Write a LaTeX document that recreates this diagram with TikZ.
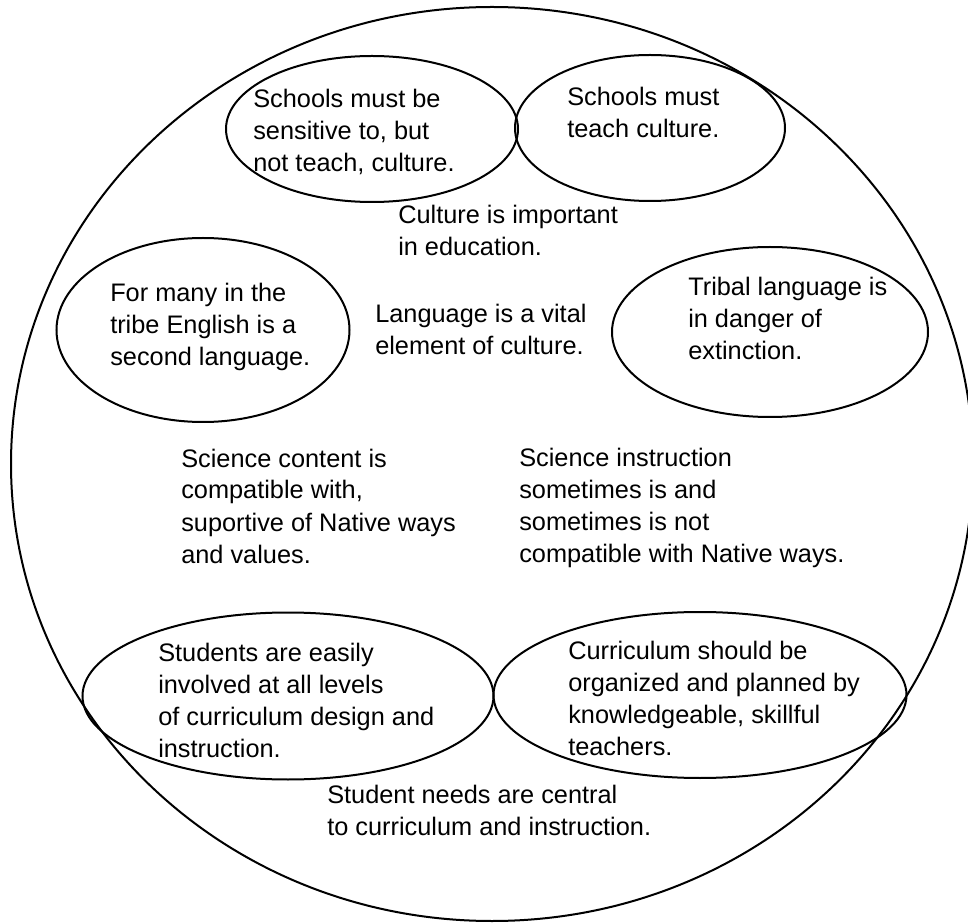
\documentclass[tikz,border=0pt]{standalone}
\usepackage{fontspec}
\setmainfont{Liberation Sans}
\usetikzlibrary{shapes.geometric}
\tikzset{bolla/.style={draw, ellipse, line width=1.5pt, inner sep=0pt}}
\tikzset{frase/.style={align=left, anchor=base west, inner sep=0pt, font=\fontsize{19}{24}\selectfont}}

\begin{document}
\begin{tikzpicture}[
            x = 0.75pt, y = -0.75pt
        ]
            \useasboundingbox (0,0) rectangle (968,923);

            \node[bolla, minimum width=721.5pt, minimum height=685.5pt] (0) at (492,464) {};
            \node[bolla, minimum width=219pt, minimum height=109.5pt] (1) at (372,129) {};
            \node[bolla, minimum width=202.5pt, minimum height=109.5pt] (2) at (650,128) {};
            \node[bolla, minimum width=219.75pt, minimum height=138pt] (3) at (203,330) {};
            \node[bolla, minimum width=237pt, minimum height=127.5pt] (4) at (770,332) {};
            \node[bolla, minimum width=308.25pt, minimum height=125.25pt] (5) at (288,696) {};
            \node[bolla, minimum width=309.75pt, minimum height=124.5pt] (6) at (700,695) {};

            \node[frase] (a) at (253,172) {Schools must be\\sensitive to, but\\not teach, culture.};
            \node[frase] (b) at (567,138) {Schools must\\teach culture.};
            \node[frase] (c) at (398,256) {Culture is important\\in education.};
            \node[frase] (d) at (110,366) {For many in the\\tribe English is a\\second language.};
            \node[frase] (e) at (375,355) {Language is a vital\\element of culture.};
            \node[frase] (f) at (688,360) {Tribal language is\\in danger of\\extinction.};
            \node[frase] (g) at (181,563) {Science content is\\compatible with,\\suportive of Native ways\\and values.};
            \node[frase] (h) at (519,562) {Science instruction\\sometimes is and\\sometimes is not\\compatible with Native ways.};
            \node[frase] (i) at (158,757) {Students are easily\\involved at all levels\\of curriculum design and\\instruction.};
            \node[frase] (j) at (568,755) {Curriculum should be\\organized and planned by\\knowledgeable, skillful\\teachers.};
            \node[frase] (k) at (327,835) {Student needs are central\\to curriculum and instruction.};
        \end{tikzpicture}
\end{document}
